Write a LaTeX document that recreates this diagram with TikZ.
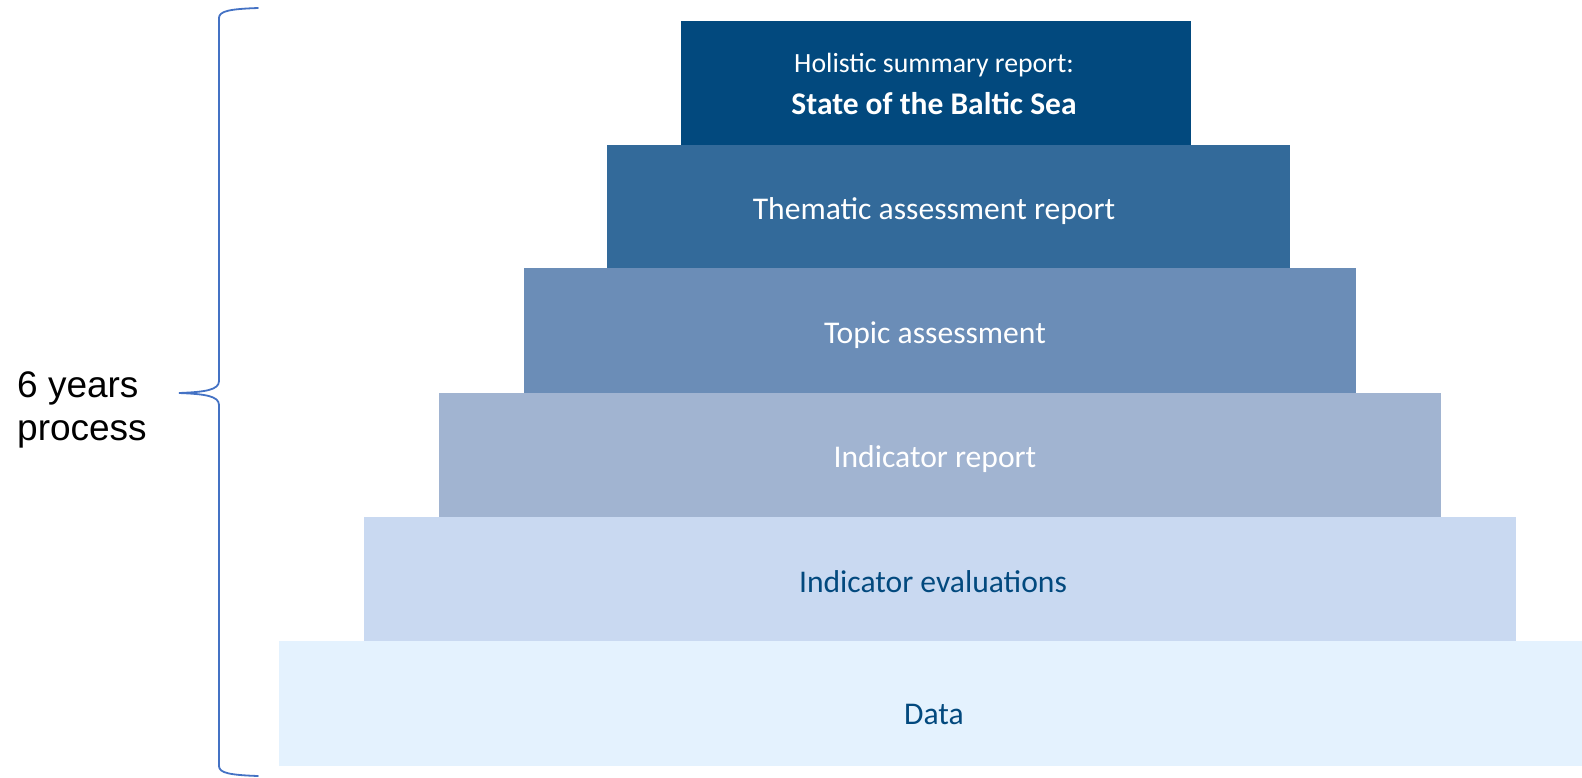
\documentclass[tikz,border=0pt]{standalone}
\usepackage{fontspec}
\setmainfont{Liberation Sans}
\newfontfamily\calfont{Carlito}
\definecolor{cA}{HTML}{02497E}
\definecolor{cB}{HTML}{336A9A}
\definecolor{cC}{HTML}{6B8DB7}
\definecolor{cD}{HTML}{A1B4D1}
\definecolor{cE}{HTML}{C9D9F1}
\definecolor{cF}{HTML}{E4F2FE}
\definecolor{txtdark}{HTML}{02497E}
\definecolor{bracecol}{HTML}{4472C4}
\begin{document}
\begin{tikzpicture}[x=1pt,y=-1pt,
  layer/.style={inner sep=0pt, outer sep=0pt, anchor=north west, draw=none},
  lbl/.style={font=\calfont\fontsize{31.6}{36}\selectfont, inner sep=0pt, anchor=center},
  toplbl/.style={font=\calfont\fontsize{27.8}{32}\selectfont, inner sep=0pt, text=white, anchor=base},
  topbold/.style={font=\calfont\bfseries\fontsize{31.5}{36}\selectfont, inner sep=0pt, text=white, anchor=base}]
\useasboundingbox (0,0) rectangle (1582,777);
% layers
\node[layer, fill=cF, minimum width=1303pt, minimum height=125pt] (l6) at (279,641) {};
\node[layer, fill=cE, minimum width=1152pt, minimum height=124pt] (l5) at (364,517) {};
\node[layer, fill=cD, minimum width=1002pt, minimum height=124pt] (l4) at (439,393) {};
\node[layer, fill=cC, minimum width=832pt, minimum height=125pt] (l3) at (524,268) {};
\node[layer, fill=cB, minimum width=683pt, minimum height=123pt] (l2) at (607,145) {};
\node[layer, fill=cA, minimum width=510pt, minimum height=124pt] (l1) at (681,21) {};
% labels
\node[toplbl] (t1a) at (934,72) {Holistic summary report:};
\node[topbold] (t1b) at (934,114) {State of the Baltic Sea};
\node[lbl, text=white] (t2) at (934,211) {Thematic assessment report};
\node[lbl, text=white] (t3) at (935,335) {Topic assessment};
\node[lbl, text=white] (t4) at (935,459) {Indicator report};
\node[lbl, text=txtdark] (t5) at (933,582) {Indicator evaluations};
\node[lbl, text=txtdark] (t6) at (934,714) {Data};
% brace
\coordinate (btop) at (258,8);
\coordinate (btip) at (179,393);
\coordinate (bbot) at (258,776);
\draw[bracecol, line width=1.8pt, line cap=round]
  (btop) .. controls (230,9) and (219,11) .. (219,18)
  -- (219,381) .. controls (219,390) and (205,392) .. (btip)
  .. controls (205,394) and (219,396) .. (219,405)
  -- (219,766) .. controls (219,773) and (230,775) .. (bbot);
\node[font=\fontsize{37}{43}\selectfont, align=left, anchor=base west, inner sep=0pt] (yrs) at (17,440) {6 years\\process};
\end{tikzpicture}
\end{document}
